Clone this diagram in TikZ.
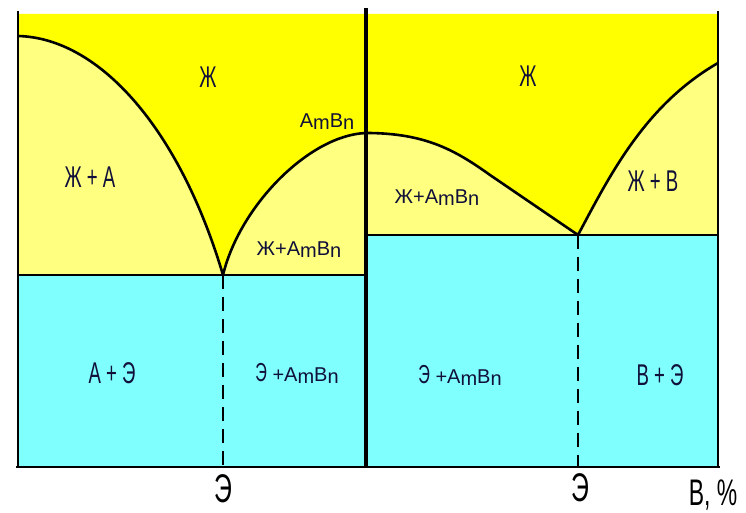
\documentclass[tikz,border=0pt]{standalone}
\usepackage{fontspec}
\setmainfont{Liberation Sans}
\newfontfamily\narrowfont[FakeStretch=0.62]{Liberation Sans}
\usetikzlibrary{positioning}

\definecolor{liquidfill}{HTML}{FFFF00}
\definecolor{mixfill}{HTML}{FFFF80}
\definecolor{solidfill}{HTML}{80FFFF}
\definecolor{labelink}{HTML}{10103A}

\newcommand{\AmBn}{A\raisebox{-2pt}{m}B\raisebox{-2pt}{n}}

\begin{document}
\begin{tikzpicture}[
    x=1pt, y=-1pt,
    phase/.style={font=\fontsize{20}{24}\selectfont, text=labelink, inner sep=0pt},
    narrow/.style={font=\narrowfont\fontsize{30}{34}\selectfont, text=labelink, inner sep=0pt},
    axislabel/.style={font=\narrowfont\fontsize{40}{44}\selectfont, inner sep=0pt},
    curve/.style={line width=2.6pt},
    eutectic/.style={line width=2pt},
    axis/.style={line width=2pt},
    guide/.style={line width=2pt, dash pattern=on 14pt off 8pt}
  ]
  \useasboundingbox (0,0) rectangle (746,513);

  % Points
  \coordinate (meltA) at (18,36);
  \coordinate (eutL) at (223,275);
  \coordinate (comp) at (366,133);
  \coordinate (bend) at (490,175);
  \coordinate (eutR) at (578,235);
  \coordinate (meltB) at (718,63);

  % Regions
  \fill[solidfill] (18,14) rectangle (718,467);
  \fill[mixfill] (18,14) rectangle (366,275);
  \fill[mixfill] (366,14) rectangle (718,235);
  \fill[liquidfill] (18,14) -- (meltA)
    .. controls (100,38) and (180,130) .. (eutL)
    .. controls (240,205) and (310,135) .. (comp)
    .. controls (425,133) and (455,150) .. (bend) -- (eutR)
    .. controls (610,175) and (645,105) .. (meltB) -- (718,14) -- cycle;

  % Liquidus
  \draw[curve] (meltA)
    .. controls (100,38) and (180,130) .. (eutL)
    .. controls (240,205) and (310,135) .. (comp)
    .. controls (425,133) and (455,150) .. (bend) -- (eutR)
    .. controls (610,175) and (645,105) .. (meltB);

  % Eutectic lines
  \draw[eutectic] (18,275) -- (366,275);
  \draw[eutectic] (366,235) -- (718,235);
  \draw[guide] (eutL) -- (223,467);
  \draw[guide] (eutR) -- (578,467);

  % Axes
  \draw[axis] (18,11) -- (18,467);
  \draw[axis] (718,11) -- (718,467);
  \draw[axis] (16,467) -- (720,467);
  \draw[line width=3.6pt] (366,8) -- (366,467);

  % Labels
  \node[narrow] (liqL) at (208,77) {Ж};
  \node[narrow] (liqA) at (90,177) {Ж + А};
  \node[phase] (compd) at (327,122) {\AmBn};
  \node[phase] (liqCL) at (299,250) {Ж+\AmBn};
  \node[narrow] (solA) at (112,373) {А + Э};
  \node[phase] (solCL) at (297,373) {{\narrowfont\fontsize{26}{30}\selectfont Э} +\AmBn};
  \node[narrow] (liqR) at (528,76) {Ж};
  \node[phase] (liqCR) at (437,198) {Ж+\AmBn};
  \node[narrow] (liqB) at (653,181) {Ж + В};
  \node[phase] (solCR) at (460,375) {{\narrowfont\fontsize{26}{30}\selectfont Э} +\AmBn};
  \node[narrow] (solB) at (660,375) {В + Э};
  \node[axislabel, below=7pt of {223,467}] (eL) {Э};
  \node[axislabel, below=6pt of {580,467}] (eR) {Э};
  \node[axislabel, font=\narrowfont\fontsize{37}{40}\selectfont] (axB) at (713,495) {В, \%};
\end{tikzpicture}
\end{document}
